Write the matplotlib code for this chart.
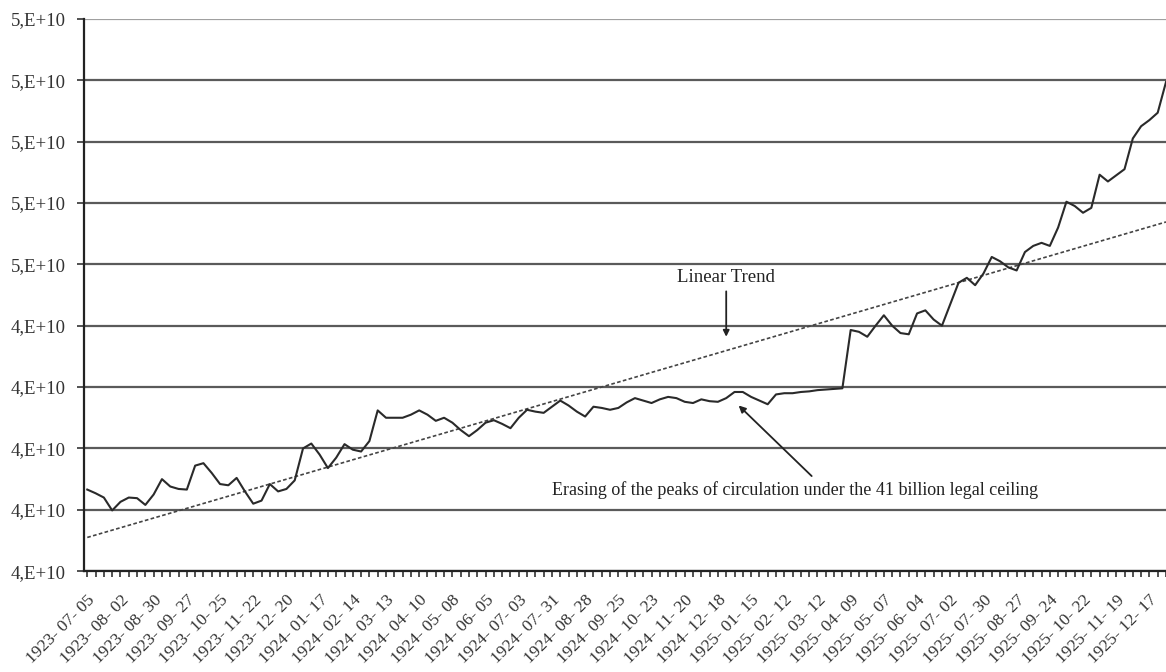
import numpy as np
import matplotlib
matplotlib.use('Agg')
import matplotlib.pyplot as plt
from matplotlib.ticker import FuncFormatter, MultipleLocator

plt.rcParams['font.family'] = ['Liberation Serif', 'DejaVu Serif']

# weekly banknote circulation, billions of francs (1923-07-05 .. 1925-12-31)
circulation = [
    41.33, 41.27, 41.20, 40.99, 41.13, 41.20, 41.19, 41.08, 41.25, 41.50,
    41.38, 41.34, 41.33, 41.72, 41.76, 41.60, 41.42, 41.40, 41.52, 41.30,
    41.10, 41.15, 41.42, 41.30, 41.34, 41.48, 42.00, 42.08, 41.90, 41.68,
    41.85, 42.07, 41.98, 41.95, 42.12, 42.62, 42.50, 42.50, 42.50, 42.55,
    42.62, 42.55, 42.45, 42.50, 42.42, 42.30, 42.20, 42.30, 42.42, 42.46,
    42.40, 42.33, 42.50, 42.63, 42.60, 42.58, 42.68, 42.78, 42.70, 42.60,
    42.52, 42.68, 42.66, 42.63, 42.66, 42.75, 42.82, 42.78, 42.74, 42.80,
    42.84, 42.82, 42.76, 42.74, 42.80, 42.77, 42.76, 42.82, 42.92, 42.92,
    42.84, 42.78, 42.72, 42.88, 42.90, 42.90, 42.92, 42.93, 42.95, 42.96,
    42.97, 42.98, 43.93, 43.90, 43.82, 44.00, 44.17, 44.00, 43.88, 43.86,
    44.20, 44.25, 44.10, 44.00, 44.35, 44.70, 44.78, 44.66, 44.85, 45.12,
    45.05, 44.95, 44.90, 45.20, 45.30, 45.35, 45.30, 45.60, 46.02, 45.95,
    45.84, 45.92, 46.46, 46.35, 46.45, 46.55, 47.05, 47.25, 47.35, 47.47,
    47.97,
]
# linear trend, value at first and last week
trend_ends = [40.55, 45.69]

tick_labels = [
    '1923- 07- 05', '1923- 08- 02', '1923- 08- 30', '1923- 09- 27', '1923- 10- 25',
    '1923- 11- 22', '1923- 12- 20', '1924- 01- 17', '1924- 02- 14', '1924- 03- 13',
    '1924- 04- 10', '1924- 05- 08', '1924- 06- 05', '1924- 07- 03', '1924- 07- 31',
    '1924- 08- 28', '1924- 09- 25', '1924- 10- 23', '1924- 11- 20', '1924- 12- 18',
    '1925- 01- 15', '1925- 02- 12', '1925- 03- 12', '1925- 04- 09', '1925- 05- 07',
    '1925- 06- 04', '1925- 07- 02', '1925- 07- 30', '1925- 08- 27', '1925- 09- 24',
    '1925- 10- 22', '1925- 11- 19', '1925- 12- 17',
]

values = np.array(circulation) * 1e9
weeks = np.arange(len(values))

fig = plt.figure(figsize=(11.66, 6.72), dpi=100)
ax = fig.add_axes([0.072, 0.150, 0.928, 0.822])

# horizontal grid (top one is paler in the original)
for v in np.arange(40e9, 49.5e9, 1e9):
    c = '#a0a0a0' if v > 48.5e9 else '#5a5a5a'
    ax.axhline(v, color=c, lw=1.6, zorder=1)

ax.plot([weeks[0], weeks[-1]], np.array(trend_ends) * 1e9, color='#444444',
        lw=1.2, dashes=(2.2, 1.4), zorder=2)
ax.plot(weeks, values, color='#2a2a2a', lw=1.5, zorder=3)

ax.set_xlim(-0.4, weeks[-1])
ax.set_ylim(40e9, 49e9)

ax.yaxis.set_major_locator(MultipleLocator(1e9))
ax.yaxis.set_major_formatter(FuncFormatter(lambda v, p: f"{int(v / 1e10 + 0.5)},E+10"))

ax.set_xticks(weeks[::4])
ax.set_xticklabels(tick_labels, rotation=45, ha='right', rotation_mode='anchor')
ax.set_xticks(weeks, minor=True)

ax.tick_params(axis='y', length=5, width=1.2, pad=8, labelsize=13.5, colors='#333333')
ax.tick_params(axis='x', which='both', length=4, width=1.2, pad=11, labelsize=12.5,
               colors='#333333', direction='out')

for s in ['top', 'right']:
    ax.spines[s].set_visible(False)
for s in ['left', 'bottom']:
    ax.spines[s].set_linewidth(1.6)
    ax.spines[s].set_color('#222222')

# annotations
ax.annotate('Linear Trend', xy=(77.0, 43.82e9), xytext=(77.0, 44.65e9),
            ha='center', va='bottom', fontsize=13.5, color='#222222',
            arrowprops=dict(arrowstyle='-|>', color='#222222', lw=1.3,
                            mutation_scale=9, shrinkA=2, shrinkB=0))
ax.annotate('', xy=(78.5, 42.7e9), xytext=(87.3, 41.55e9),
            arrowprops=dict(arrowstyle='-|>', color='#222222', lw=1.3,
                            mutation_scale=10, shrinkA=0, shrinkB=0))
ax.text(85.3, 41.32e9, 'Erasing of the peaks of circulation under the 41 billion legal ceiling',
        ha='center', va='center', fontsize=13, color='#222222')

plt.savefig('out.png', dpi=100)
plt.close()
